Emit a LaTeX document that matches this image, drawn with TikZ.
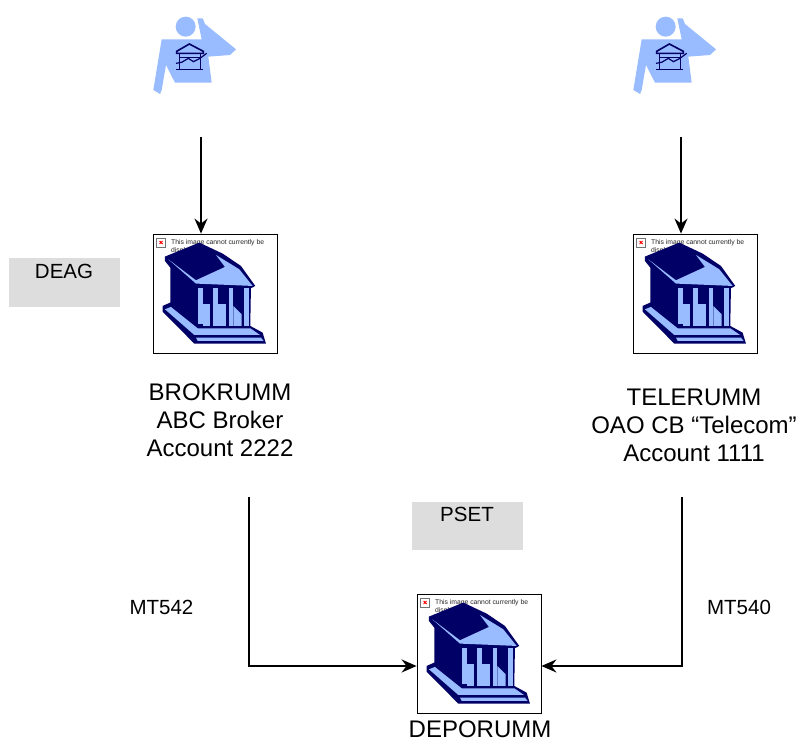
\documentclass[tikz,border=0pt]{standalone}
\usepackage{fontspec}
\setmainfont{Liberation Sans}
\usetikzlibrary{arrows.meta}
\definecolor{navyicon}{HTML}{000066}
\definecolor{lightblue}{HTML}{99BBFF}
\definecolor{greybox}{HTML}{DDDDDD}
\tikzset{
	bank/.pic={
		\begin{scope}[scale=1/3,shift={(-25,-28)}]
			\draw[black!55,fill=white,line width=.5pt] (37,41) rectangle (64,68);
			\draw[red,line width=1pt] (46,50) -- (55,59) (55,50) -- (46,59);
			\node[anchor=north west,inner sep=0pt,font=\fontsize{6.8}{8.5}\selectfont,align=left,text=black!85] (-msg) at (80,44) {This image cannot currently be\\displayed.};
			\fill[navyicon] (62,97) -- (165,55) -- (235,88) -- (290,125) -- (333,185) -- (320,192) -- (318,305) -- (355,325) -- (365,358) -- (150,358) -- (55,262) -- (55,245) -- (78,235) -- (78,130) -- (62,110) -- cycle;
			\fill[lightblue] (72,105) -- (155,178) -- (325,185) -- (285,135) -- (215,92) -- (242,128) -- (155,168) -- cycle;
			\fill[lightblue] (160,190) rectangle (176,300);
			\fill[lightblue] (176,240) -- (198,240) -- (198,305) -- (176,305) -- cycle;
			\fill[lightblue] (207,190) rectangle (221,305);
			\fill[lightblue] (221,240) -- (245,240) -- (245,305) -- (221,305) -- cycle;
			\fill[lightblue] (253,190) rectangle (267,305);
			\fill[lightblue] (267,245) -- (292,270) -- (292,305) -- (267,305) -- cycle;
			\fill[lightblue] (300,190) rectangle (315,305);
			\fill[lightblue] (62,255) -- (80,248) -- (160,312) -- (318,312) -- (347,332) -- (150,332) -- cycle;
			\fill[lightblue] (155,340) -- (350,340) -- (358,350) -- (160,350) -- cycle;
		\end{scope}
	},
	trader/.pic={
		\begin{scope}[scale=1/3]
			\fill[lightblue] (137,50) circle (30);
			\fill[lightblue] (65,88) -- (185,88) -- (172,25) -- (188,25) -- (195,42) -- (288,118) -- (270,135) -- (205,140) -- (215,218) -- (105,218) -- (78,165) -- (65,240) -- (60,252) -- (40,240) -- cycle;
			\draw[navyicon,line width=1.6pt] (110,124) -- (148,102) -- (190,124) -- (190,130) -- (110,130) -- cycle;
			\draw[navyicon,line width=1.6pt] (118,130) -- (118,178) (182,130) -- (182,178) (108,178) -- (190,178) (118,142) -- (182,142);
			\draw[navyicon,line width=1.2pt] (108,160) -- (125,157) -- (145,145) -- (160,155) -- (180,145) -- (200,130);
		\end{scope}
	}
}
\begin{document}
\begin{tikzpicture}[
		x=1pt,y=-1pt,
		bankbox/.style={draw,line width=.8pt,fill=white,minimum width=124pt,minimum height=119pt,inner sep=0pt},
		graybox/.style={fill=greybox,minimum width=111pt,minimum height=48pt,inner sep=0pt},
		caption/.style={align=center,font=\fontsize{24}{28}\selectfont,inner sep=0pt},
		tag/.style={font=\fontsize{20.5}{24}\selectfont,inner sep=0pt},
		link/.style={line width=1.6pt,-{Stealth[length=15pt,width=13pt]}}
		]
	\useasboundingbox (0,0) rectangle (798,738);

	\node[graybox] (deag) at (64.5,282.5) {};
	\node[tag] (deagtext) at (64,271) {DEAG};
	\node[graybox] (pset) at (467.5,526) {};
	\node[tag] (psettext) at (467,514) {PSET};

	\node[bankbox] (brokbox) at (215,293.5) {};
	\node[bankbox] (telebox) at (695,293.5) {};
	\node[bankbox] (depobox) at (479,653.5) {};
	\pic (brokicon) at (brokbox.north west) {bank};
	\pic (teleicon) at (telebox.north west) {bank};
	\pic (depoicon) at (depobox.north west) {bank};

	\pic at (140,10) {trader};
	\pic at (620,10) {trader};

	\node[caption] (brokname) at (220,420) {BROKRUMM\\ABC Broker\\Account 2222};
	\node[caption] (telename) at (694,425) {TELERUMM\\OAO CB “Telecom”\\Account 1111};
	\node[caption] (deponame) at (480,729) {DEPORUMM};
	\node[tag] (mtleft) at (161.5,607) {MT542};
	\node[tag] (mtright) at (739,607) {MT540};

	\coordinate (brokdown) at (201,137);
	\coordinate (teledown) at (681,137);
	\coordinate (brokout) at (249,497);
	\coordinate (teleout) at (682,497);
	\coordinate (depoline) at (479,666);

	\draw[link] (brokdown) -- (brokdown |- brokbox.north);
	\draw[link] (teledown) -- (teledown |- telebox.north);
	\draw[link] (brokout) |- (depobox.west |- depoline);
	\draw[link] (teleout) |- (depobox.east |- depoline);
\end{tikzpicture}
\end{document}
